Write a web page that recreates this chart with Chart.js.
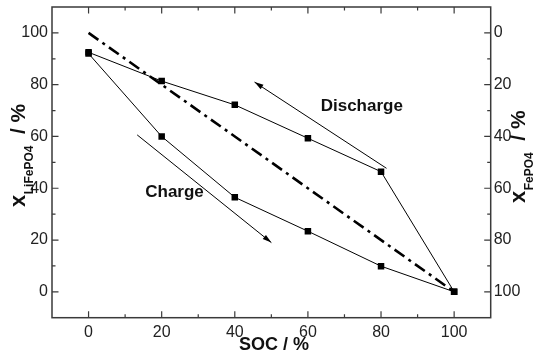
<!DOCTYPE html>
<html><head><meta charset="utf-8">
<script src="https://cdn.jsdelivr.net/npm/chart.js@4"></script>
<style>html,body{margin:0;padding:0;background:#fff}</style>
</head><body>
<canvas id="c" width="533" height="355"></canvas>
<script>
// ---- data ----
const socValues = [0, 20, 40, 60, 80, 100];
const dischargeValues = [92.5, 81.4, 72.2, 59.3, 46.4, 0];
const chargeValues = [92, 60, 36.5, 23.4, 9.9, 0];
const idealX = [0, 100];
const idealY = [100, 0];
const dischargeArrowX = [81.5, 45.4];
const dischargeArrowY = [47.7, 81];
const chargeArrowX = [13.3, 50];
const chargeArrowY = [60.6, 19];
const xTickLabels = [0, 20, 40, 60, 80, 100];
const yLeftTickLabels = [0, 20, 40, 60, 80, 100];
const yRightTickLabels = [0, 20, 40, 60, 80, 100];
const minorTickValues = [-10, 10, 30, 50, 70, 90, 110];
const annotationTexts = [{text: 'Discharge', x: 63.5, y: 71.5}, {text: 'Charge', x: 15.5, y: 38.5}];

const pts = (xs, ys) => xs.map((x, i) => ({x, y: ys[i]}));
const FONT = "'Liberation Sans', Arial, sans-serif";
const AXIS_COLOR = '#3a3a3a';

const drawPlugin = {
  id: 'decor',
  afterDatasetsDraw(chart) {
    const ctx = chart.ctx;
    const xs = chart.scales.x, ys = chart.scales.y;
    // arrowheads
    [[dischargeArrowX, dischargeArrowY], [chargeArrowX, chargeArrowY]].forEach(([ax, ay]) => {
      const x0 = xs.getPixelForValue(ax[0]), y0 = ys.getPixelForValue(ay[0]);
      const x1 = xs.getPixelForValue(ax[1]), y1 = ys.getPixelForValue(ay[1]);
      const ang = Math.atan2(y1 - y0, x1 - x0);
      const L = 9, W = 2.6;
      ctx.save();
      ctx.translate(x1, y1); ctx.rotate(ang);
      ctx.beginPath(); ctx.moveTo(0, 0); ctx.lineTo(-L, -W); ctx.lineTo(-L, W); ctx.closePath();
      ctx.fillStyle = '#000'; ctx.fill();
      ctx.restore();
    });
    // annotation texts
    ctx.save();
    ctx.font = "bold 17px " + FONT;
    ctx.fillStyle = '#111';
    ctx.textAlign = 'left'; ctx.textBaseline = 'middle';
    annotationTexts.forEach(a => {
      ctx.fillText(a.text, xs.getPixelForValue(a.x), ys.getPixelForValue(a.y));
    });
    ctx.restore();
  },
  afterDraw(chart) {
    const ctx = chart.ctx;
    const a = chart.chartArea;
    const xs = chart.scales.x, ys = chart.scales.y, y2 = chart.scales.y2;
    ctx.save();
    ctx.strokeStyle = AXIS_COLOR;
    ctx.lineWidth = 1.5;
    ctx.strokeRect(a.left, a.top, a.right - a.left, a.bottom - a.top);
    ctx.lineWidth = 1.2;
    ctx.beginPath();
    const major = 6.5, minor = 3.5;
    xTickLabels.forEach(v => {
      const p = xs.getPixelForValue(v);
      ctx.moveTo(p, a.bottom); ctx.lineTo(p, a.bottom - major);
      ctx.moveTo(p, a.top); ctx.lineTo(p, a.top + major);
    });
    minorTickValues.forEach(v => {
      const p = xs.getPixelForValue(v);
      if (p > a.left + 1 && p < a.right - 1) {
        ctx.moveTo(p, a.bottom); ctx.lineTo(p, a.bottom - minor);
        ctx.moveTo(p, a.top); ctx.lineTo(p, a.top + minor);
      }
      const q = ys.getPixelForValue(v);
      if (q > a.top + 1 && q < a.bottom - 1) {
        ctx.moveTo(a.left, q); ctx.lineTo(a.left + minor, q);
      }
      const r = y2.getPixelForValue(v);
      if (r > a.top + 1 && r < a.bottom - 1) {
        ctx.moveTo(a.right, r); ctx.lineTo(a.right - minor, r);
      }
    });
    yLeftTickLabels.forEach(v => {
      const q = ys.getPixelForValue(v);
      ctx.moveTo(a.left, q); ctx.lineTo(a.left + major, q);
    });
    yRightTickLabels.forEach(v => {
      const r = y2.getPixelForValue(v);
      ctx.moveTo(a.right, r); ctx.lineTo(a.right - major, r);
    });
    ctx.stroke();
    ctx.restore();

    // axis titles
    ctx.save();
    ctx.fillStyle = '#111';
    ctx.textBaseline = 'alphabetic';
    ctx.textAlign = 'center';
    ctx.font = "bold 18px " + FONT;
    ctx.fillText('SOC / %', 274, 350);
    ctx.restore();

    const rotTitle = (px, py, sub) => {
      ctx.save();
      ctx.translate(px, py);
      ctx.rotate(-Math.PI / 2);
      ctx.fillStyle = '#111';
      ctx.textAlign = 'left';
      ctx.textBaseline = 'alphabetic';
      ctx.font = "bold 22px " + FONT;
      ctx.fillText('x', 0, 0);
      let w = ctx.measureText('x').width;
      ctx.font = "bold 12px " + FONT;
      ctx.fillText(sub, w + 0.5, 8);
      w += ctx.measureText(sub).width + 12;
      ctx.font = "bold 21px " + FONT;
      ctx.fillText('/ %', w, 0);
      ctx.restore();
    };
    rotTitle(25, 207, 'LiFePO4');
    rotTitle(525, 203, 'FePO4');
  }
};

const zeroPad = s => { s.paddingTop = 0; s.paddingBottom = 0; s.paddingLeft = 0; s.paddingRight = 0; };
const tickFont = {family: FONT, size: 16};
new Chart(document.getElementById('c'), {
  type: 'scatter',
  data: {
    datasets: [
      {label: 'ideal', data: pts(idealX, idealY), showLine: true, borderColor: '#000', borderWidth: 2.6,
       borderDash: [12, 5, 3, 5], pointRadius: 0},
      {label: 'Discharge', data: pts(socValues, dischargeValues), showLine: true, borderColor: '#000', borderWidth: 1,
       pointStyle: 'rect', pointRadius: 4.6, pointBackgroundColor: '#000', pointBorderColor: '#000', pointBorderWidth: 0},
      {label: 'Charge', data: pts(socValues, chargeValues), showLine: true, borderColor: '#000', borderWidth: 1,
       pointStyle: 'rect', pointRadius: 4.6, pointBackgroundColor: '#000', pointBorderColor: '#000', pointBorderWidth: 0},
      {label: 'dischargeArrow', data: pts(dischargeArrowX, dischargeArrowY), showLine: true, borderColor: '#000', borderWidth: 1, pointRadius: 0},
      {label: 'chargeArrow', data: pts(chargeArrowX, chargeArrowY), showLine: true, borderColor: '#000', borderWidth: 1, pointRadius: 0}
    ]
  },
  options: {
    responsive: false,
    animation: false,
    devicePixelRatio: 1,
    layout: {padding: {top: 7, left: 0, right: 0, bottom: 0}},
    plugins: {legend: {display: false}, tooltip: {enabled: false}},
    scales: {
      x: {
        type: 'linear', min: -10, max: 110, position: 'bottom',
        grid: {display: false, drawTicks: false}, border: {display: false},
        afterBuildTicks(s) { s.ticks = xTickLabels.map(v => ({value: v})); },
        afterFit(s) { s.height = 37.3; zeroPad(s); },
        ticks: {font: tickFont, color: '#222', padding: 5, maxRotation: 0, autoSkip: false}
      },
      y: {
        type: 'linear', min: -10, max: 110, position: 'left',
        grid: {display: false, drawTicks: false}, border: {display: false},
        afterBuildTicks(s) { s.ticks = yLeftTickLabels.map(v => ({value: v})); },
        afterFit(s) { s.width = 52; zeroPad(s); },
        ticks: {font: tickFont, color: '#222', padding: 4, autoSkip: false}
      },
      y2: {
        type: 'linear', min: -10, max: 110, position: 'right', reverse: true,
        grid: {display: false, drawTicks: false}, border: {display: false},
        afterBuildTicks(s) { s.ticks = yRightTickLabels.map(v => ({value: v})); },
        afterFit(s) { s.width = 42.3; zeroPad(s); },
        ticks: {font: tickFont, color: '#222', padding: 3, autoSkip: false}
      }
    }
  },
  plugins: [drawPlugin]
});
</script>
</body></html>
